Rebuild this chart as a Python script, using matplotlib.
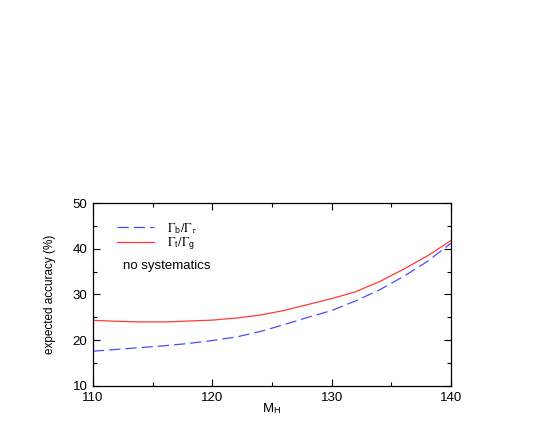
import numpy as np
import matplotlib
matplotlib.use("Agg")
import matplotlib.pyplot as plt
from matplotlib.ticker import MultipleLocator

plt.rcParams['font.family'] = ['Liberation Sans', 'DejaVu Sans']
plt.rcParams['mathtext.fontset'] = 'stix'

# Higgs mass (GeV) and expected accuracy (%)
mass = [110, 112, 114, 116, 118, 120, 122, 124, 126, 128, 130, 132, 134, 136, 138, 140]
acc_b_tau = [17.6, 18.0, 18.4, 18.8, 19.3, 19.95, 20.7, 21.9, 23.4, 25.0, 26.5, 28.6, 31.0, 33.9, 37.2, 41.2]
acc_t_g = [24.35, 24.15, 24.0, 24.0, 24.2, 24.4, 24.85, 25.5, 26.5, 27.8, 29.1, 30.6, 32.8, 35.5, 38.4, 41.8]

fig = plt.figure(figsize=(5.45, 4.36), dpi=100)
ax = fig.add_axes([0.1706, 0.1147, 0.657, 0.4197])

ax.plot(mass, acc_b_tau, color='#4a4aff', lw=0.9, dashes=(9, 4),
        label=r'$\Gamma_\mathregular{b}/\Gamma_\tau$')
ax.plot(mass, acc_t_g, color='#ff3a3a', lw=0.9,
        label=r'$\Gamma_\mathregular{t}/\Gamma_\mathregular{g}$')

ax.set_xlim(110, 140)
ax.set_ylim(10, 50)
ax.xaxis.set_major_locator(MultipleLocator(10))
ax.xaxis.set_minor_locator(MultipleLocator(5))
ax.yaxis.set_major_locator(MultipleLocator(10))
ax.yaxis.set_minor_locator(MultipleLocator(5))
ax.tick_params(which='both', direction='in', top=True, right=True, width=0.8)
ax.tick_params(which='major', length=5, labelsize=9.5, pad=4)
ax.tick_params(which='minor', length=3)
for s in ax.spines.values():
    s.set_linewidth(0.9)

ax.set_xlabel(r'M$_\mathregular{H}$', fontsize=9.5, labelpad=-2)
ax.set_ylabel('expected accuracy (%)', fontsize=8.5, labelpad=12)

ax.legend(loc='upper left', bbox_to_anchor=(0.052, 0.93), frameon=False,
          fontsize=9, handlelength=3.0, handletextpad=1.0, labelspacing=0.0,
          borderaxespad=0)
ax.text(0.085, 0.655, 'no systematics', transform=ax.transAxes, fontsize=9.5,
        va='center', ha='left')

fig.savefig('out.png', dpi=100)
